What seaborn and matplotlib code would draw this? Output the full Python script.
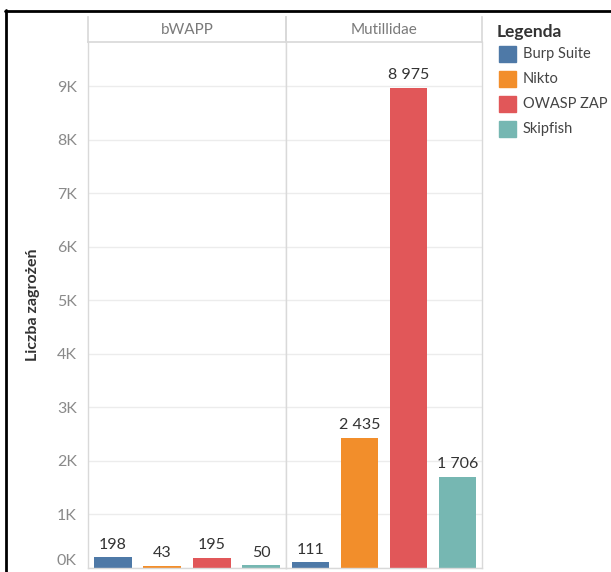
import matplotlib
matplotlib.use("Agg")
import matplotlib.pyplot as plt
import seaborn as sns
import pandas as pd
from matplotlib.lines import Line2D
from matplotlib.patches import Rectangle

sns.set_theme(style="white")
plt.rcParams['font.family'] = ['Lato', 'DejaVu Sans']

apps = ["bWAPP", "Mutillidae"]
tools = ["Burp Suite", "Nikto", "OWASP ZAP", "Skipfish"]
bwapp_vals = [198, 43, 195, 50]
mutillidae_vals = [111, 2435, 8975, 1706]
colors = ["#4E79A7", "#F28E2B", "#E15759", "#76B7B2"]
yticks = [0, 1000, 2000, 3000, 4000, 5000, 6000, 7000, 8000, 9000]
ytick_labels = ["0K", "1K", "2K", "3K", "4K", "5K", "6K", "7K", "8K", "9K"]

W, H = 611, 572
fig = plt.figure(figsize=(W / 100, H / 100), dpi=100)

def fx(px):
    return px / W

def fy(py):
    return 1 - py / H

left, mid, right = 88, 286, 482
top, bottom, head_top = 42, 568, 17
grid_c = "#ececec"
line_c = "#d9d9d9"

data_sets = [bwapp_vals, mutillidae_vals]
xs = [(left, mid), (mid, right)]
for i, (app, vals) in enumerate(zip(apps, data_sets)):
    x0, x1 = xs[i]
    ax = fig.add_axes([fx(x0), fy(bottom), fx(x1 - x0), fy(top) - fy(bottom)])
    df = pd.DataFrame({"tool": tools, "value": vals})
    sns.barplot(data=df, x="tool", y="value", hue="tool", palette=colors,
                order=tools, hue_order=tools, width=0.76, legend=False,
                ax=ax, edgecolor="none", saturation=1)
    ax.set_ylim(0, 9830)
    ax.set_xlim(-0.5, 3.5)
    ax.set_yticks(yticks)
    ax.grid(axis="y", color=grid_c, linewidth=1)
    ax.set_axisbelow(True)
    ax.set_xticks([])
    ax.set_xlabel("")
    ax.set_ylabel("")
    ax.spines["top"].set_visible(False)
    for s in ["left", "right", "bottom"]:
        ax.spines[s].set_color(line_c)
        ax.spines[s].set_linewidth(1)
    if i == 0:
        ax.set_yticklabels(ytick_labels, fontsize=11.5, color="#8a8a8a")
        ax.tick_params(axis="y", length=0, pad=8)
        lbl0 = ax.get_yticklabels()[0]
        lbl0.set_va("bottom")
        ax.set_ylabel("Liczba zagrożeń", fontsize=11.5, fontweight="bold",
                      color="#333333", labelpad=12)
    else:
        ax.set_yticklabels([])
        ax.tick_params(axis="y", length=0)
    for j, v in enumerate(vals):
        ax.annotate(f"{v:,}".replace(",", " "), (j, v), xytext=(0, 4),
                    textcoords="offset points", ha="center", va="bottom",
                    fontsize=11.5, color="#333333")
    # header
    hax = fig.add_axes([fx(x0), fy(top), fx(x1 - x0), fy(head_top) - fy(top)])
    hax.set_xticks([])
    hax.set_yticks([])
    hax.patch.set_alpha(0)
    hax.spines["top"].set_visible(False)
    for s in ["left", "right", "bottom"]:
        hax.spines[s].set_color(line_c)
    hax.text(0.5, 0.5, app, ha="center", va="center", fontsize=11,
             color="#7a7a7a", transform=hax.transAxes)

# legend
fig.text(fx(497), fy(32), "Legenda", fontsize=12.5, fontweight="bold",
         color="#333333", va="center", ha="left")
for k, (t, c) in enumerate(zip(tools, colors)):
    yc = 54 + k * 25
    fig.patches.append(Rectangle((fx(499), fy(yc + 8)), fx(17), fy(yc - 8) - fy(yc + 8),
                                 transform=fig.transFigure, color=c, figure=fig))
    fig.text(fx(523), fy(yc), t, fontsize=10.5, color="#444444",
             va="center", ha="left")

# frame lines from screenshot
fig.add_artist(Line2D([fx(6), fx(6)], [fy(10), 0], transform=fig.transFigure,
                      color="black", linewidth=2))
fig.add_artist(Line2D([fx(5), 1], [fy(11), fy(11)], transform=fig.transFigure,
                      color="black", linewidth=2))

fig.savefig("out.png", dpi=100)
